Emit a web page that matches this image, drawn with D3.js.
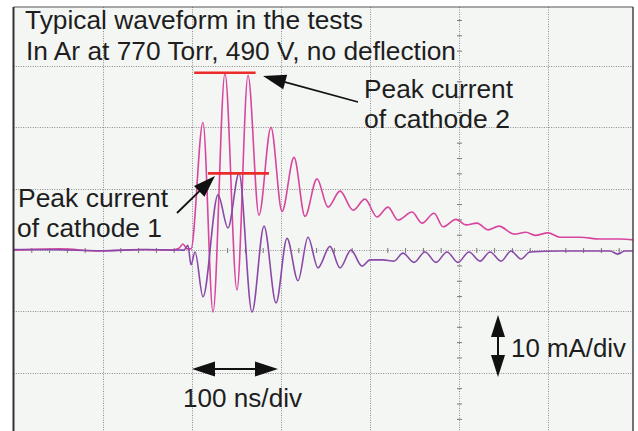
<!DOCTYPE html>
<html><head><meta charset="utf-8">
<script src="https://cdn.jsdelivr.net/npm/d3@7"></script>
<style>html,body{margin:0;padding:0;background:#fff;} svg{display:block;}</style>
</head><body>
<svg id="c" width="638" height="431"></svg>
<script>
// ---- data (time in ns, current in mA) ----
const cathode2Time = [0, 52, 97, 142, 178, 186, 190.4, 195, 199.4, 212.9, 224.2, 237.6, 251.1, 263.5, 275.8, 289.3, 301.7, 315.2, 327.5, 341, 353.4, 366.9, 381.5, 394.9, 408.4, 420.8, 432, 447.8, 459, 472.5, 482.6, 497.2, 508.4, 520.8, 533.1, 545.5, 562.4, 575.8, 586, 600.6, 614, 636.5, 659, 681.5, 700];
const cathode2Current = [0, 0.2, -0.15, 0.1, 0, 0.3, 1.0, 0.2, 0.2, 20.8, -10.1, 28.8, -6.5, 28.5, 5.7, 20.0, 6.3, 15.1, 5.5, 11.6, 7.0, 9.6, 6.5, 8.3, 5.4, 7.0, 4.9, 6.2, 4.4, 6.0, 3.8, 5.0, 4.1, 4.4, 3.3, 3.9, 2.6, 2.9, 2.4, 2.8, 2.1, 2.1, 1.8, 1.8, 1.6];
const cathode1Time = [0, 50, 100, 150, 191.6, 196, 199.4, 204, 212.9, 229.8, 241, 253.4, 268, 281.5, 295, 307.3, 319.7, 330.9, 342.1, 355.6, 366.9, 379.2, 391.6, 400.6, 415.2, 427.5, 437.6, 450, 462.4, 474.7, 487.1, 499.4, 511.8, 524.2, 535.4, 547.8, 559, 570.2, 580.3, 614, 670, 679, 687, 700];
const cathode1Current = [0.1, 0.05, -0.1, 0.1, 0, 0.8, -2.4, -0.3, -7.6, 9.0, 3.6, 12.5, -10.1, 3.9, -8.6, 1.9, -5.0, 2.1, -2.9, 0.6, -2.9, 0, -2.6, -1.6, -1.6, -1.8, -0.5, -2.0, -0.3, -2.0, -0.3, -2.0, -0.3, -1.8, -0.3, -1.8, -0.15, -1.45, -0.3, -0.15, -0.15, -0.65, -0.15, -0.15];
const timeGridNs = [100, 200, 300, 400, 500, 600];
const currentGridMa = [-30, -20, -10, 0, 10, 20, 30];
const titleLines = ["Typical waveform in the tests", "In Ar at 770 Torr, 490 V, no deflection"];
const peak2 = {level: 28.9, from: 203, to: 272};
const peak1 = {level: 12.5, from: 218.5, to: 287};
const labelCathode2 = ["Peak current", "of cathode 2"];
const labelCathode1 = ["Peak current", "of cathode 1"];
const timeScaleLabel = "100 ns/div";
const currentScaleLabel = "10 mA/div";

// ---- layout ----
const svg = d3.select("#c");
const L = 13.5, T = 7, R = 633, B = 440;
const x = d3.scaleLinear().domain([0, 700]).range([13.5, 636.5]);
const y = d3.scaleLinear().domain([-30, 40]).range([434.2, 4.6]);

svg.append("defs").append("clipPath").attr("id", "clip")
  .append("rect").attr("x", L).attr("y", T).attr("width", R - L).attr("height", B - T);

svg.append("rect").attr("x", L).attr("y", T).attr("width", R - L).attr("height", B - T)
  .attr("fill", "#f4f6f4");

const plot = svg.append("g").attr("clip-path", "url(#clip)");
const gridStyle = s => s.attr("stroke", "#8c8c8c").attr("stroke-width", 1).attr("stroke-dasharray", "1,1.4");

plot.selectAll(".vg").data(timeGridNs).join("line")
  .attr("x1", d => Math.round(x(d)) + 0.5).attr("x2", d => Math.round(x(d)) + 0.5)
  .attr("y1", T).attr("y2", B).call(gridStyle);
plot.selectAll(".hg").data(currentGridMa).join("line")
  .attr("y1", d => Math.round(y(d)) + 0.5).attr("y2", d => Math.round(y(d)) + 0.5)
  .attr("x1", L).attr("x2", R).call(gridStyle);

// centre axes with minor ticks
const xAxis = d3.axisBottom(x).tickValues(d3.range(20, 700, 20).filter(v => v % 100 !== 0))
  .tickSize(5).tickFormat("");
const xa = plot.append("g").attr("transform", `translate(0,${Math.round(y(0)) + 0.5 - 2.5})`).call(xAxis);
xa.select(".domain").remove();
xa.selectAll("line").attr("stroke", "#777");
const yAxis = d3.axisLeft(y).tickValues(d3.range(-30, 40.1, 2.5).filter(v => v % 10 !== 0))
  .tickSize(5).tickFormat("");
const ya = plot.append("g").attr("transform", `translate(${Math.round(x(500)) + 0.5 + 2.5},0)`).call(yAxis);
ya.select(".domain").remove();
ya.selectAll("line").attr("stroke", "#777");

// traces
const line = d3.line().x(d => x(d[0])).y(d => y(d[1])).curve(d3.curveMonotoneX);
const c2 = cathode2Time.map((t, i) => [t, cathode2Current[i]]);
const c1 = cathode1Time.map((t, i) => [t, cathode1Current[i]]);
plot.append("path").attr("d", line(c2)).attr("fill", "none")
  .attr("stroke", "#d8459e").attr("stroke-width", 1.6);
plot.append("path").attr("d", line(c1)).attr("fill", "none")
  .attr("stroke", "#8a49a8").attr("stroke-width", 1.6);

// frame
svg.append("line").attr("x1", L).attr("x2", R).attr("y1", T).attr("y2", T).attr("stroke", "#555").attr("stroke-width", 1.2);
svg.append("line").attr("x1", L).attr("x2", L).attr("y1", T).attr("y2", B).attr("stroke", "#333").attr("stroke-width", 2);
svg.append("line").attr("x1", R).attr("x2", R).attr("y1", T).attr("y2", B).attr("stroke", "#444").attr("stroke-width", 1.5);

// peak markers
[peak2, peak1].forEach(p => {
  svg.append("line").attr("x1", x(p.from)).attr("x2", x(p.to))
    .attr("y1", y(p.level)).attr("y2", y(p.level))
    .attr("stroke", "#ec2b2b").attr("stroke-width", 2.6);
});

// arrows
function head(tx, ty, fx, fy, len, hw) {
  const a = Math.atan2(ty - fy, tx - fx);
  const bx = tx - len * Math.cos(a), by = ty - len * Math.sin(a);
  const px = -Math.sin(a) * hw, py = Math.cos(a) * hw;
  svg.append("path").attr("d", `M${tx},${ty}L${bx + px},${by + py}L${bx - px},${by - py}Z`).attr("fill", "#111");
  return [bx, by];
}
function arrow(x1, y1, x2, y2, both, len, hw, w) {
  let s = [x1, y1], e = [x2, y2];
  const eb = head(x2, y2, x1, y1, len, hw);
  e = [(eb[0] + x2) / 2, (eb[1] + y2) / 2];
  if (both) { const sb = head(x1, y1, x2, y2, len, hw); s = [(sb[0] + x1) / 2, (sb[1] + y1) / 2]; }
  svg.append("line").attr("x1", s[0]).attr("y1", s[1]).attr("x2", e[0]).attr("y2", e[1])
    .attr("stroke", "#111").attr("stroke-width", w);
}
arrow(358, 102, 263, 76, false, 23, 7.5, 1.8);
arrow(177, 213, 215, 176, false, 22, 7.5, 1.8);
arrow(192, 369, 278, 369, true, 23, 7.5, 2);
arrow(498, 315, 498, 377, true, 22, 7, 2);

// text
const font = "'Liberation Sans', Arial, Helvetica, sans-serif";
function label(t, tx, ty, w) {
  svg.append("text").attr("x", tx).attr("y", ty).text(t)
    .attr("font-family", font).attr("font-size", 25).attr("fill", "#1e1e1e")
    .attr("textLength", w).attr("lengthAdjust", "spacingAndGlyphs");
}
label(titleLines[0], 25, 29, 338);
label(titleLines[1], 26, 60, 430);
label(labelCathode2[0], 364, 98, 149);
label(labelCathode2[1], 364, 128, 146);
label(labelCathode1[0], 18, 207, 150);
label(labelCathode1[1], 17, 237, 145);
label(timeScaleLabel, 183, 407, 119);
label(currentScaleLabel, 511, 357, 115);
</script>
</body></html>
